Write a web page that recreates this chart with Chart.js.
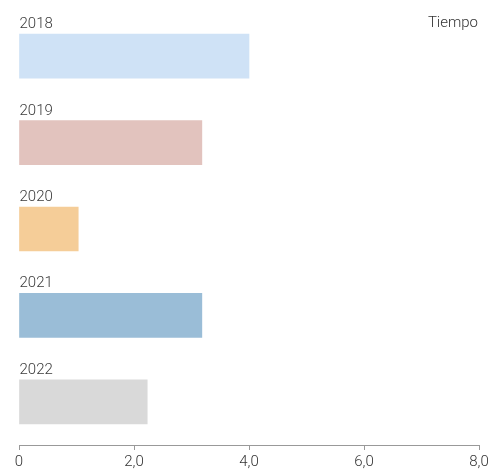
<!DOCTYPE html>
<html>
<head>
<meta charset="utf-8">
<script src="https://cdn.jsdelivr.net/npm/chart.js@4/dist/chart.umd.min.js"></script>
<style>
  html, body { margin: 0; padding: 0; background: #fff; }
  #chart { display: block; }
</style>
</head>
<body>
<canvas id="chart" width="493" height="472"></canvas>
<script>
  // ── datos ──
  const years = ['2018', '2019', '2020', '2021', '2022'];
  const values = [4.0, 3.18, 1.03, 3.18, 2.23];
  const barColors = ['#cfe2f6', '#e2c3be', '#f5cd98', '#9abdd7', '#d9d9d9'];
  const axisTitle = 'Tiempo';
  const xMax = 8;

  const fmt = (v) => v === 0 ? '0' : v.toFixed(1).replace('.', ',');

  // etiquetas encima de cada barra + título arriba a la derecha
  const labelPlugin = {
    id: 'barLabels',
    afterDatasetsDraw(chart) {
      const ctx = chart.ctx;
      const meta = chart.getDatasetMeta(0);
      ctx.save();
      ctx.font = '300 15px Roboto';
      ctx.fillStyle = '#3a3a3a';
      ctx.textBaseline = 'alphabetic';
      ctx.textAlign = 'left';
      meta.data.forEach((bar, i) => {
        const top = bar.y - bar.height / 2;
        ctx.fillText(years[i], bar.base, top - 6);
      });
      ctx.textAlign = 'right';
      ctx.fillStyle = '#333';
      ctx.fillText(axisTitle, chart.chartArea.right - 1, 27);
      ctx.restore();
    }
  };

  new Chart(document.getElementById('chart').getContext('2d'), {
    type: 'bar',
    data: {
      labels: years,
      datasets: [{
        data: values,
        backgroundColor: barColors,
        borderWidth: 0,
        barThickness: 44,
      }],
    },
    options: {
      indexAxis: 'y',
      responsive: false,
      animation: false,
      layout: { padding: { left: 19, right: 14, top: 13, bottom: 0 } },
      plugins: {
        legend: { display: false },
        tooltip: { enabled: false },
      },
      scales: {
        y: { display: false },
        x: {
          min: 0,
          max: xMax,
          afterFit: (s) => { s.height = 27; },
          border: { color: '#999', width: 1 },
          grid: { drawOnChartArea: false, drawTicks: true, tickLength: 5, color: '#999' },
          ticks: {
            stepSize: 2,
            padding: 3,
            color: '#333',
            font: { family: 'Roboto', size: 15, weight: '300' },
            maxRotation: 0,
            callback: (v) => fmt(v),
          },
        },
      },
    },
    plugins: [labelPlugin],
  });
</script>
</body>
</html>
